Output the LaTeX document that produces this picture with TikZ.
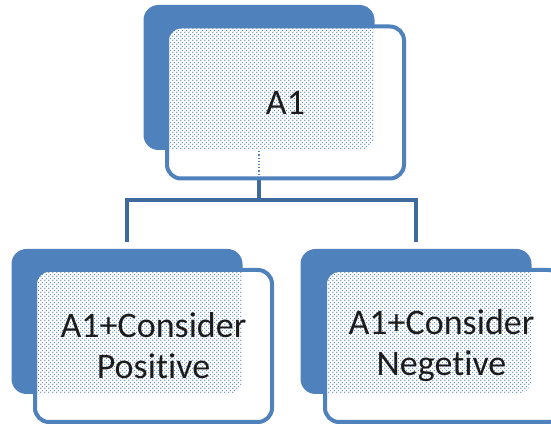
\documentclass[tikz,border=0pt]{standalone}
\usepackage{fontspec}
\setmainfont[Ligatures={NoCommon,NoContextual}]{Carlito}
\usetikzlibrary{patterns}
\definecolor{boxblue}{HTML}{4F81BD}
\definecolor{linkblue}{HTML}{3F6A9E}
\definecolor{ink}{HTML}{1C1C1C}
% staggered dot grid used for the show-through texture
\pgfdeclarepatternformonly{cardDots}{\pgfpointorigin}{\pgfpoint{4pt}{4pt}}{\pgfpoint{4pt}{4pt}}{%
  \pgfpathcircle{\pgfpoint{1pt}{1pt}}{0.8pt}%
  \pgfpathcircle{\pgfpoint{3pt}{3pt}}{0.8pt}%
  \pgfusepath{fill}}
\tikzset{
  backcard/.style={rectangle, rounded corners=15pt, fill=boxblue, draw=none,
    minimum width=231pt, minimum height=145pt, inner sep=0pt},
  frontcard/.style={rectangle, rounded corners=14pt, fill=white, draw=boxblue,
    line width=4pt, minimum width=237pt, minimum height=152pt, inner sep=0pt},
  label/.style={text=ink, font=\fontsize{36}{41}\selectfont, align=center},
  link/.style={draw=linkblue, line width=4pt},
  dotfill/.style={pattern=cardDots, pattern color=boxblue},
}
\begin{document}
\begin{tikzpicture}[x=1pt, y=1pt]
  \useasboundingbox (0,0) rectangle (551,425);
  \clip (0,0) rectangle (551,425);

  % back cards
  \node[backcard] (bt) at (259,347.5) {};
  \node[backcard] (bl) at (127,103.5) {};
  \node[backcard] (br) at (416,103.5) {};

  % tree connectors
  \coordinate (j) at ([yshift=-50pt]bt.south);
  \draw[link] (bt.south) -- (j);
  \draw[link, shorten <=7pt, shorten >=7pt] (bl.north) |- (j) -| (br.north);

  % front cards
  \node[frontcard] (ft) at (285.5,322.5) {};
  \node[frontcard] (fl) at (153.5,79) {};
  \node[frontcard] (fr) at (443.5,79) {};

  % dotted show-through of the back cards
  \foreach \b/\f in {bt/ft, bl/fl, br/fr} {
    \begin{scope}
      \clip[rounded corners=15pt] (\b.south west) rectangle (\b.north east);
      \clip[rounded corners=12pt] ([shift={(2pt,2pt)}]\f.south west)
        rectangle ([shift={(-2pt,-2pt)}]\f.north east);
      \fill[dotfill] (\b.south west) rectangle (\b.north east);
    \end{scope}
  }
  % connector seen through the top front card
  \draw[boxblue, line width=1.2pt, dotted] ([yshift=-1pt]bt.south) -- ([yshift=4pt]bt.south |- ft.south);

  % labels
  \node[label] (lt) at (ft.center) {A1};
  \node[label] (ll) at (fl.center) {A1+Consider\\Positive};
  \node[label] (lr) at ([xshift=-2pt]fr.center) {A1+Consider\\Negetive};
\end{tikzpicture}
\end{document}
